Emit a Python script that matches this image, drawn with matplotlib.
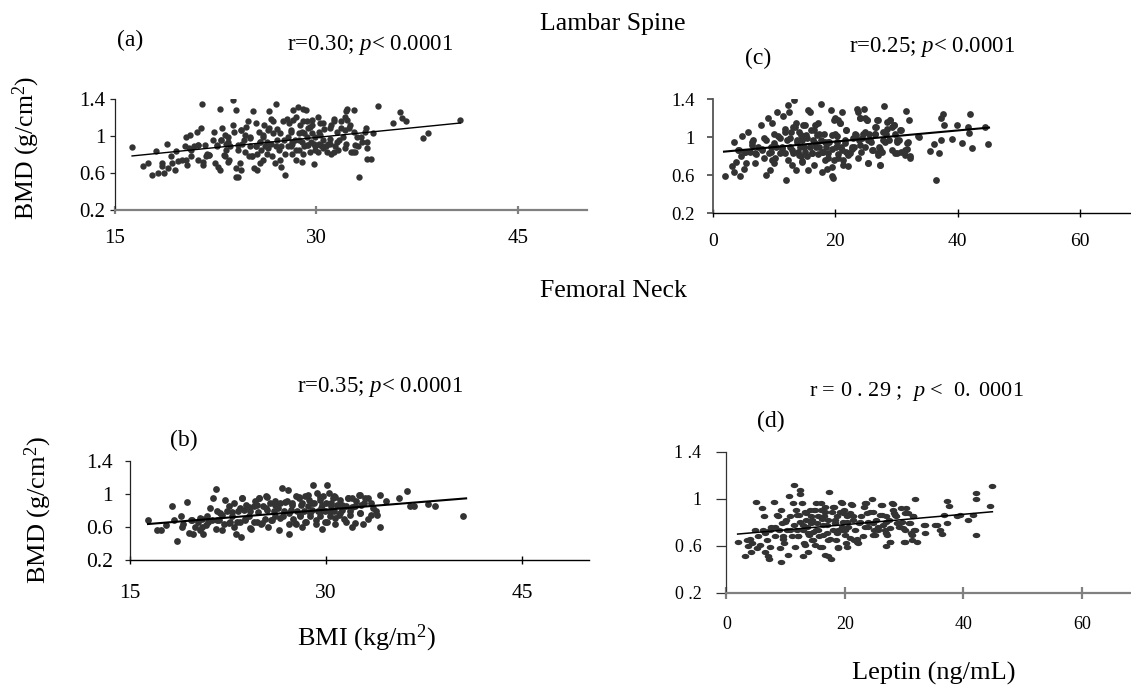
import matplotlib
matplotlib.use("Agg")
import matplotlib.pyplot as plt
from matplotlib.path import Path
from matplotlib.transforms import Affine2D

plt.rcParams['font.family'] = ['Liberation Serif', 'DejaVu Serif']
plt.rcParams['mathtext.fontset'] = 'custom'
plt.rcParams['mathtext.rm'] = 'Liberation Serif'
plt.rcParams['mathtext.it'] = 'Liberation Serif:italic'

# ---------------- data ----------------
# (a) Lumbar spine BMD vs BMI
points_a = [(16.3,0.88),(17.1,0.68),(17.5,0.71),(17.8,0.58),(18.1,0.84),(18.2,0.60),(18.5,0.71),(18.7,0.60),
 (18.5,0.68),(18.9,0.92),(19.0,0.66),(19.2,0.78),(19.3,0.71),(19.5,0.63),(19.6,0.84),(19.7,0.73),(20.0,0.74),
 (20.2,0.89),(20.3,0.99),(20.3,0.74),(20.4,0.69),(20.6,1.01),(20.7,0.85),(20.7,0.78),(20.9,0.89),(21.1,1.05),
 (21.2,0.74),(21.2,0.90),(21.4,1.09),(21.5,1.35),(21.6,0.72),(21.6,0.69),(21.7,0.90),(21.8,0.78),(21.9,0.81),
 (22.0,0.80),(22.3,0.96),(22.4,1.05),(22.5,0.71),(22.6,0.89),(22.7,0.67),(22.8,1.29),(22.8,0.63),(22.9,0.96),
 (23.0,1.09),(23.1,0.80),(23.2,1.01),(23.2,0.78),(23.3,0.92),(23.4,0.99),(23.4,0.72),(23.5,0.74),(23.6,0.89),
 (23.8,1.12),(23.8,1.39),(23.9,1.05),(24.0,0.65),(24.0,1.28),(24.0,0.56),(24.2,0.56),(24.2,0.85),(24.3,0.71),
 (24.4,1.07),(24.4,0.63),(24.5,0.92),(24.6,0.96),(24.7,1.01),(24.8,1.10),(24.9,1.16),(25.0,0.78),(25.1,0.89),
 (25.1,0.99),(25.2,0.78),(25.3,1.27),(25.4,0.65),(25.5,1.14),(25.5,0.89),(25.6,0.81),(25.6,0.63),(25.7,1.05),
 (25.8,0.94),(25.8,0.71),(25.9,0.85),(26.0,0.99),(26.0,0.74),(26.1,1.12),(26.2,0.89),(26.3,0.94),(26.3,0.81),
 (26.4,1.07),(26.5,1.27),(26.6,1.19),(26.6,0.92),(26.7,0.78),(26.8,1.03),(26.8,1.16),(26.9,0.71),(27.0,1.35),
 (27.0,0.89),(27.1,0.96),(27.1,1.08),(27.2,0.85),(27.3,0.74),(27.3,1.03),(27.4,0.89),(27.4,0.67),(27.5,1.16),
 (27.6,0.96),(27.7,0.81),(27.7,0.58),(27.8,1.19),(27.9,0.89),(27.9,0.99),(28.0,1.14),(28.1,0.89),(28.1,1.05),
 (28.2,0.81),(28.2,0.92),(28.3,1.28),(28.4,0.96),(28.5,0.74),(28.5,1.21),(28.6,1.32),(28.7,1.03),(28.7,0.85),
 (28.8,1.12),(28.9,0.94),(28.9,0.72),(29.0,1.30),(29.1,0.89),(29.1,1.03),(29.2,1.28),(29.3,0.99),(29.3,1.17),
 (29.4,0.90),(29.5,0.83),(29.5,1.10),(29.6,0.94),(29.7,1.03),(29.7,1.12),(29.8,0.70),(29.9,0.89),(29.9,0.99),
 (30.1,1.21),(30.1,0.83),(30.2,0.92),(30.3,1.14),(30.3,1.01),(30.4,0.89),(30.5,0.96),(30.6,1.08),(30.7,0.89),
 (30.8,0.83),(30.9,0.92),(31.0,0.97),(31.1,1.12),(31.1,0.81),(31.3,1.16),(31.4,0.89),(31.5,1.05),(31.6,0.85),
 (31.7,0.96),(31.8,1.16),(32.0,0.99),(32.1,1.07),(32.2,1.27),(32.3,1.30),(32.3,1.18),(32.4,1.09),(32.5,1.12),
 (32.6,0.83),(32.8,1.05),(32.8,1.28),(32.9,0.83),(33.0,0.99),(33.1,0.89),(33.2,0.56),(33.3,0.99),(33.4,0.94),
 (33.6,1.05),(33.7,1.09),(33.8,0.94),(33.8,0.87),(33.8,0.75),(34.1,0.75),(34.2,1.04),(34.6,1.33),(35.7,1.14),
 (36.2,1.26),(36.4,1.20),(36.7,1.16),(37.9,0.98),(38.3,1.03),(40.7,1.18),
 (28.3,1.18),(29.0,1.16),(29.7,1.18),(30.5,1.14),(31.3,1.19),(32.1,1.21),(28.1,1.07),(28.9,1.05),(29.4,1.09),
 (30.2,1.05),(31.0,1.09),(31.8,1.09),(28.2,0.94),(28.7,0.96),(29.3,0.90),(29.8,0.92),(30.3,0.90),(31.0,0.92),
 (31.5,0.94),(32.2,0.92),(32.9,0.90),(28.5,0.85),(29.0,0.81),(29.9,0.85),(30.5,0.87),(31.3,0.83),(32.1,0.87),
 (32.7,0.83),(20.5,0.87),(21.2,0.90),(22.0,0.80),(22.6,0.90),(22.9,0.96),(23.3,0.85),(23.4,0.94),(24.2,0.90),
 (24.4,1.07),(24.7,0.83),(25.1,0.98),(25.2,0.78),(25.5,0.89),(25.8,0.94),(26.0,1.01),(26.4,0.87),(26.5,1.09)]
trend_a_x = [16.3, 40.7]
trend_a_y = [0.786, 1.143]

# (c) Lumbar spine BMD vs leptin
points_c = [(1.9,0.59),(3.1,0.70),(3.4,0.95),(3.5,0.64),(3.8,0.74),(4.1,0.87),(4.4,0.59),(4.6,0.80),(4.8,1.01),
 (5.0,0.67),(5.2,0.85),(5.4,0.73),(5.8,1.06),(6.0,0.85),(6.4,0.92),(6.6,0.97),(6.8,0.73),(7.0,0.82),(7.4,0.90),
 (7.8,1.13),(8.0,0.87),(8.3,0.78),(8.6,0.97),(8.7,0.60),(9.0,1.20),(9.1,0.83),(9.3,0.66),(9.4,0.90),(9.6,0.76),
 (9.7,1.15),(9.9,1.04),(10.0,0.73),(10.3,0.90),(10.5,1.27),(10.6,1.01),(10.9,0.83),(11.2,0.90),(11.5,1.22),
 (11.7,1.06),(11.8,0.83),(11.9,0.55),(12.1,0.97),(12.3,1.34),(12.3,0.76),(12.4,1.27),(12.5,0.90),(12.7,1.06),
 (12.9,0.71),(13.0,0.83),(13.1,1.11),(13.3,1.39),(13.5,1.15),(13.6,0.66),(13.7,0.97),(13.9,0.85),(14.0,1.06),
 (14.2,0.90),(14.3,0.80),(14.5,0.97),(14.6,0.75),(14.7,1.13),(14.9,0.90),(15.0,0.85),(15.2,1.02),(15.3,0.80),
 (15.5,1.29),(15.6,0.66),(15.8,0.90),(15.9,1.27),(16.0,1.08),(16.2,0.83),(16.4,0.97),(16.5,0.71),(16.6,1.13),
 (16.8,0.90),(17.0,1.02),(17.1,0.82),(17.2,1.15),(17.4,0.90),(17.6,1.35),(17.7,0.97),(17.8,0.64),(18.0,0.85),
 (18.2,1.04),(18.3,0.76),(18.4,0.90),(18.6,0.67),(18.8,0.83),(19.0,0.95),(19.2,1.29),(19.4,0.59),(19.5,1.02),
 (19.6,0.57),(19.8,0.76),(19.9,1.20),(20.1,0.90),(20.2,1.01),(20.4,1.18),(20.5,0.82),(20.8,1.15),(20.9,0.90),
 (21.1,1.27),(21.2,0.76),(21.5,0.97),(21.7,0.85),(21.8,1.08),(22.1,0.70),(22.4,0.83),(22.7,0.90),(23.0,0.90),
 (23.3,1.02),(23.6,1.30),(23.7,1.27),(23.9,0.97),(24.1,1.20),(24.2,0.85),(24.5,1.04),(24.7,1.30),(24.8,1.20),
 (24.9,0.90),(25.1,1.18),(25.3,0.97),(25.4,0.73),(25.5,1.04),(25.8,0.95),(26.1,0.87),(26.4,1.04),(26.5,1.11),
 (26.8,1.18),(27.0,0.83),(27.1,0.90),(27.3,0.71),(27.6,0.85),(27.8,0.97),(28.0,1.33),(28.2,1.04),(28.5,1.16),
 (28.8,0.97),(28.9,1.18),(29.2,1.11),(29.5,1.13),(29.8,0.84),(30.0,0.97),(30.4,0.97),(30.6,1.08),(30.8,0.85),
 (31.3,0.87),(31.6,1.28),(31.7,0.94),(32.0,1.18),(32.2,0.80),(33.6,1.00),(35.4,0.86),(36.1,0.93),(36.5,0.55),
 (36.9,0.84),(37.2,1.20),(37.2,0.97),(37.6,1.25),(37.8,1.13),(39.1,0.98),(39.8,1.13),(40.7,0.94),(41.7,1.11),
 (41.9,1.05),(42.0,1.25),(42.4,0.89),(44.5,1.11),(45.0,0.93),
 (4.2,0.87),(5.3,0.85),(6.4,0.95),(6.9,0.83),(8.0,0.88),(8.3,0.99),(9.4,0.85),(9.9,0.94),(10.2,0.78),(11.0,0.99),
 (11.3,0.88),(11.8,1.09),(12.6,0.99),(12.9,0.87),(13.4,1.11),(13.7,0.95),(14.0,0.81),(14.3,1.02),(14.5,0.74),
 (14.8,0.90),(15.1,1.13),(15.4,0.99),(16.2,0.83),(16.5,1.08),(16.7,0.94),(17.3,1.04),(17.8,0.85),(18.3,0.95),
 (19.7,1.18),(20.8,1.15),(24.0,1.20),(25.1,1.18),(27.0,1.18),(28.9,1.18),(29.5,1.13),(28.4,1.09),(26.7,1.11),
 (21.8,1.08),(19.9,1.04),(23.2,1.04),(24.8,1.06),(26.5,1.04),(27.8,1.06),(29.7,1.04),(30.7,1.08),(18.8,0.95),
 (20.2,0.95),(21.6,0.94),(22.9,0.99),(24.3,0.99),(25.7,0.97),(28.1,0.95),(30.0,0.95),(31.9,0.95),(33.5,1.01),
 (19.4,0.88),(21.0,0.87),(22.7,0.88),(24.0,0.92),(25.9,0.87),(27.3,0.88),(29.2,0.87),(31.7,0.88),(18.8,0.78),
 (20.5,0.78),(22.1,0.81),(23.7,0.78),(25.4,0.73),(27.0,0.81),(30.0,0.83),(31.4,0.81),(19.4,0.69),(21.3,0.71),
 (27.3,0.71),(32.2,0.78)]
trend_c_x = [1.8, 45.1]
trend_c_y = [0.849, 1.102]

# (b) Femoral neck BMD vs BMI
points_b = [(16.4,0.68),(17.1,0.56),(17.4,0.56),(17.8,0.62),(18.2,0.85),(18.4,0.68),(18.6,0.43),(18.9,0.73),
 (19.0,0.60),(19.1,0.64),(19.4,0.90),(19.5,0.53),(19.7,0.68),(19.8,0.52),(20.0,0.60),(20.2,0.66),(20.4,0.56),
 (20.5,0.70),(20.6,0.52),(20.8,0.62),(20.9,0.73),(21.1,0.83),(21.3,0.68),(21.4,0.95),(21.6,1.06),(21.6,0.58),
 (21.7,0.80),(21.7,0.68),(21.9,0.77),(22.2,0.64),(22.3,0.93),(22.4,0.79),(22.6,0.85),(22.7,0.66),(22.8,0.73),
 (23.0,0.89),(23.0,0.60),(23.1,0.52),(23.3,0.79),(23.4,0.66),(23.5,0.48),(23.6,0.95),(23.7,0.81),(23.8,0.70),
 (23.9,0.87),(24.1,0.73),(24.2,0.79),(24.3,0.57),(24.5,0.85),(24.6,0.91),(24.7,0.66),(24.8,0.78),(24.9,0.95),
 (25.0,0.64),(25.2,0.85),(25.3,0.70),(25.4,0.98),(25.5,0.81),(25.7,0.89),(25.8,0.68),(26.0,0.79),(26.1,0.91),
 (26.1,0.73),(26.3,0.83),(26.4,0.56),(26.5,0.89),(26.6,1.07),(26.7,0.73),(26.8,0.79),(27.0,0.91),(27.1,1.05),
 (27.2,0.64),(27.2,0.52),(27.3,0.81),(27.4,0.89),(27.5,0.70),(27.7,0.97),(27.7,0.64),(27.8,0.79),(27.9,0.95),
 (28.0,0.73),(28.2,0.89),(28.2,0.60),(28.3,0.79),(28.4,0.97),(28.5,0.66),(28.6,0.85),(28.7,0.93),(28.8,0.73),
 (28.9,0.81),(29.0,1.11),(29.1,0.89),(29.2,0.64),(29.3,1.01),(29.4,0.79),(29.5,0.93),(29.5,0.73),(29.6,0.83),
 (29.7,0.58),(29.8,0.97),(29.9,0.79),(30.0,0.89),(30.1,1.11),(30.1,0.66),(30.2,1.01),(30.3,0.73),(30.4,0.85),
 (30.5,0.95),(30.6,0.79),(30.6,0.97),(30.7,0.64),(30.8,0.87),(31.0,0.75),(31.1,0.93),(31.2,0.81),(31.4,0.70),
 (31.5,0.85),(31.7,0.95),(31.8,0.79),(32.0,0.95),(32.0,0.60),(32.2,0.85),(32.3,0.91),(32.5,0.99),(32.6,0.77),
 (32.8,0.64),(32.9,0.89),(33.0,0.95),(33.2,0.70),(33.4,0.89),(33.6,0.83),(33.8,0.79),(33.9,0.75),(34.1,0.60),
 (34.1,0.99),(34.6,0.91),(35.6,0.95),(36.2,1.04),(36.4,0.85),(36.7,0.85),(37.8,0.88),(38.3,0.85),(40.5,0.73),
 (22.05,0.745),(22.8,0.786),(23.45,0.826),(24.1,0.846),(24.7,0.867),(25.4,0.826),(26.1,0.867),(26.9,0.907),
 (24.85,0.948),(25.5,0.968),(23.6,0.948),(19.76,0.685),(20.4,0.705),(21.0,0.664),(21.8,0.685),(22.6,0.645),
 (23.2,0.664),(23.8,0.685),(24.5,0.664),(25.1,0.645),(25.9,0.685),(26.5,0.705),(20.5,0.604),(22.05,0.564),
 (24.2,0.584),(25.6,0.604),(27.9,0.968),(28.6,0.988),(29.5,0.968),(30.7,0.968),(31.7,0.948),(32.6,0.988),
 (33.2,0.948),(27.4,0.867),(28.1,0.867),(28.9,0.887),(29.7,0.867),(30.4,0.887),(31.2,0.867),(31.96,0.846),
 (32.7,0.867),(27.2,0.766),(28.0,0.745),(28.8,0.766),(29.5,0.786),(30.3,0.786),(31.1,0.766),(31.8,0.745),
 (32.6,0.766),(33.4,0.745),(27.6,0.645),(28.4,0.664),(29.2,0.685),(29.9,0.664),(30.7,0.705),(31.5,0.664),
 (32.2,0.645)]
trend_b_x = [16.4, 40.7]
trend_b_y = [0.636, 0.947]

# (d) Femoral neck BMD vs leptin
points_d = [(1.9,0.63),(3.2,0.51),(3.4,0.65),(3.7,0.60),(4.0,0.66),(4.1,0.55),(4.4,0.62),(4.8,0.73),(5.0,0.97),
 (5.1,0.58),(5.4,0.68),(5.7,0.61),(6.0,0.92),(6.2,0.73),(6.4,0.85),(6.6,0.55),(6.9,0.65),(7.0,0.51),(7.2,0.49),
 (7.4,0.73),(7.6,0.76),(8.0,0.97),(8.2,0.68),(8.6,0.86),(8.8,0.73),(9.0,0.58),(9.2,0.46),(9.3,0.90),(9.4,0.79),
 (9.6,0.68),(9.8,0.62),(10.0,0.82),(10.2,0.73),(10.4,0.52),(10.5,1.02),(10.8,0.85),(11.0,0.68),(11.3,0.96),
 (11.4,1.12),(11.4,0.78),(11.6,0.59),(11.8,0.90),(11.9,0.73),(12.1,0.68),(12.2,0.86),(12.4,1.07),(12.5,1.04),
 (12.5,0.80),(12.7,0.96),(12.9,0.51),(13.0,0.73),(13.1,0.62),(13.3,0.89),(13.5,0.82),(13.6,0.76),(13.7,0.55),
 (13.9,0.69),(14.1,0.90),(14.2,0.79),(14.3,0.85),(14.5,0.65),(14.7,0.72),(14.8,0.90),(14.9,0.61),(15.1,0.96),
 (15.3,0.79),(15.4,0.73),(15.5,0.85),(15.7,0.68),(15.9,0.90),(16.0,0.96),(16.1,0.59),(16.3,0.78),(16.5,0.85),
 (16.6,0.52),(16.7,0.93),(16.9,0.71),(17.1,0.51),(17.2,0.82),(17.4,1.06),(17.5,0.66),(17.7,0.49),(17.8,0.89),
 (18.0,0.73),(18.1,0.93),(18.3,0.79),(18.5,0.65),(18.6,0.85),(18.8,0.73),(18.9,0.58),(19.2,0.89),(19.4,0.97),
 (19.5,0.73),(19.7,0.80),(19.8,0.90),(20.0,0.69),(20.2,0.62),(20.4,0.85),(20.6,0.76),(20.9,0.88),(21.2,0.95),
 (21.4,0.82),(21.6,0.65),(22.0,0.66),(22.2,0.62),(22.4,0.79),(22.8,0.85),(23.2,0.93),(23.4,0.76),(23.6,0.96),
 (23.9,0.80),(24.2,0.89),(24.5,1.00),(24.7,0.69),(24.8,0.89),(25.0,0.73),(25.3,0.82),(25.6,0.76),(25.9,0.86),
 (26.1,0.95),(26.4,0.78),(26.7,0.73),(26.9,0.85),(27.0,0.60),(27.1,0.69),(27.5,0.82),(27.7,0.63),(27.9,0.96),
 (28.1,0.90),(28.3,0.88),(28.7,0.85),(28.8,0.79),(29.1,0.76),(29.4,0.92),(29.7,0.80),(29.9,0.63),(30.1,0.73),
 (30.3,0.92),(30.6,0.88),(30.9,0.79),(31.1,0.71),(31.3,0.65),(31.5,0.85),(31.7,0.73),(31.9,1.00),(32.2,0.63),
 (33.4,0.78),(35.2,0.78),(36.1,0.73),(36.4,0.70),(36.7,0.86),(37.2,0.79),(37.3,0.98),(37.6,0.94),(38.9,0.85),
 (39.5,0.86),(40.7,0.82),(41.7,0.86),(42.1,1.05),(42.1,1.00),(42.1,0.69),(44.5,0.94),(44.8,1.11),
 (6.5,0.705),(7.36,0.59),(8.2,0.76),(8.76,0.85),(9.6,0.66),(9.9,0.80),(10.7,0.73),(11.9,0.86),(12.1,0.68),
 (13.0,0.78),(13.3,0.61),(13.5,0.876),(13.8,0.705),(14.4,0.82),(14.7,0.65),(14.95,0.90),(15.2,0.733),(15.8,0.59),
 (16.1,0.83),(16.35,0.69),(16.6,0.89),(16.9,0.776),(17.2,0.65),(18.0,0.93),(18.3,0.82),(18.6,0.705),(18.9,0.59),
 (19.45,0.76),(19.45,0.96),(21.1,0.955),(23.4,0.96),(26.2,0.946),(28.2,0.955),(19.7,0.876),(21.4,0.85),
 (23.7,0.876),(26.2,0.86),(28.4,0.86),(30.1,0.876),(31.5,0.85),(20.3,0.80),(22.5,0.80),(24.8,0.79),(27.0,0.80),
 (29.3,0.79),(31.0,0.79),(20.0,0.733),(21.7,0.733),(23.9,0.76),(25.6,0.733),(27.6,0.75),(29.8,0.75),(31.8,0.733),
 (33.5,0.776),(35.5,0.776),(20.85,0.663),(23.1,0.68),(25.1,0.69),(27.0,0.705),(31.3,0.69),(33.5,0.705),
 (20.3,0.59),(22.0,0.634),(27.6,0.634),(30.1,0.634)]
trend_d_x = [1.9, 44.9]
trend_d_y = [0.699, 0.889]

bmi_ticks = [15, 30, 45]
leptin_ticks = [0, 20, 40, 60]
bmd_ticks = [0.2, 0.6, 1.0, 1.4]
bmd_labels_abc = ['0.2', '0.6', '1', '1.4']
bmd_labels_d = ['0 .2', '0 .6', '1', '1 .4']

W, H = 1131, 689
fig = plt.figure(figsize=(W / 100, H / 100), dpi=100)


def rect(x0, x1, ytop, ybot):
    return [x0 / W, 1 - ybot / H, (x1 - x0) / W, (ybot - ytop) / H]


def fpos(x, y):
    return x / W, 1 - y / H


DOT = '#333333'
ellipse = Path.unit_circle().transformed(Affine2D().scale(1.45, 1.0))


def panel(r, pts, tx, ty, xlim, xticks, ylabels, dot_s, marker, lw,
          xcol, ycol, xlw, ylw, xlsize, ylsize, xpad, ypad, ylen, xlen):
    ax = fig.add_axes(r)
    xs = [p[0] for p in pts]
    ys = [p[1] for p in pts]
    ax.scatter(xs, ys, s=dot_s, c=DOT, marker=marker, linewidths=0, zorder=3)
    ax.plot(tx, ty, color='black', lw=lw, zorder=4)
    ax.set_xlim(*xlim)
    ax.set_ylim(0.2, 1.4)
    ax.set_xticks(xticks)
    ax.set_yticks(bmd_ticks)
    ax.set_yticklabels(ylabels)
    for s in ['top', 'right']:
        ax.spines[s].set_visible(False)
    ax.spines['bottom'].set_color(xcol)
    ax.spines['bottom'].set_linewidth(xlw)
    ax.spines['left'].set_color(ycol)
    ax.spines['left'].set_linewidth(ylw)
    ax.tick_params(axis='x', direction='inout', length=xlen, width=xlw, color=xcol,
                   labelsize=xlsize, pad=xpad)
    ax.tick_params(axis='y', direction='out', length=ylen, width=ylw, color=ycol,
                   labelsize=ylsize, pad=ypad)
    ax.patch.set_alpha(0)
    return ax


# (a)
panel(rect(114.6, 586.7, 99.3, 210.0), points_a, trend_a_x, trend_a_y, (15, 50.1), bmi_ticks,
      bmd_labels_abc, 21, 'o', 1.0, '#808080', '#222222', 1.6, 0.9, 15, 15, 11, 3, 3.4, 6)
# (c)
panel(rect(713.0, 1131, 99.3, 213.3), points_c, trend_c_x, trend_c_y, (0, 68.3), leptin_ticks,
      bmd_labels_abc, 24, 'o', 1.5, '#000000', '#555555', 1.0, 1.3, 14, 13.5, 11, 9, 4.3, 6)
# (b)
panel(rect(129.7, 588.5, 461.0, 560.0), points_b, trend_b_x, trend_b_y, (15, 50.05), bmi_ticks,
      bmd_labels_abc, 24, 'o', 1.5, '#000000', '#222222', 1.0, 0.9, 15.5, 15.5, 14, 8, 3.9, 6)
# (d)
panel(rect(726.4, 1131, 451.7, 592.7), points_d, trend_d_x, trend_d_y, (0, 68.3), leptin_ticks,
      bmd_labels_d, 30, ellipse, 1.1, '#808080', '#333333', 1.6, 0.9, 13, 13, 13, 11, 7, 8)

# texts
fig.text(*fpos(613, 30), 'Lambar Spine', fontsize=18.5, ha='center', va='baseline')
fig.text(*fpos(613, 297), 'Femoral Neck', fontsize=18.5, ha='center', va='baseline')

fig.text(*fpos(130.6, 46), '(a)', fontsize=17, ha='center', va='baseline')
fig.text(*fpos(370, 50), r'r=0.30; $\mathit{p}$< $\mathit{0.0001}$', fontsize=16.5, ha='center', va='baseline')
fig.text(*fpos(758, 64), '(c)', fontsize=17, ha='center', va='baseline')
fig.text(*fpos(932, 52), r'r=0.25; $\mathit{p}$< $\mathit{0.0001}$', fontsize=16.5, ha='center', va='baseline')
fig.text(*fpos(184, 446), '(b)', fontsize=17, ha='center', va='baseline')
fig.text(*fpos(380, 392), r'r=0.35; $\mathit{p}$< $\mathit{0.0001}$', fontsize=16.5, ha='center', va='baseline')
fig.text(*fpos(771, 427), '(d)', fontsize=17, ha='center', va='baseline')
fig.text(*fpos(916, 396), r'r = 0 . 29 ;  $\mathit{p}$ <  $\mathit{0.\ 0001}$', fontsize=16, ha='center', va='baseline')

fig.text(*fpos(26, 148.3), r'BMD (g/cm$^2$)', fontsize=18.5, rotation=90, ha='center', va='center')
fig.text(*fpos(38.7, 510), r'BMD (g/cm$^2$)', fontsize=19, rotation=90, ha='center', va='center')
fig.text(*fpos(366.8, 645), r'BMI (kg/m$^2$)', fontsize=19, ha='center', va='baseline')
fig.text(*fpos(934, 680), 'Leptin (ng/mL)', fontsize=19, ha='center', va='baseline')

fig.savefig('out.png', dpi=100, facecolor='white')
